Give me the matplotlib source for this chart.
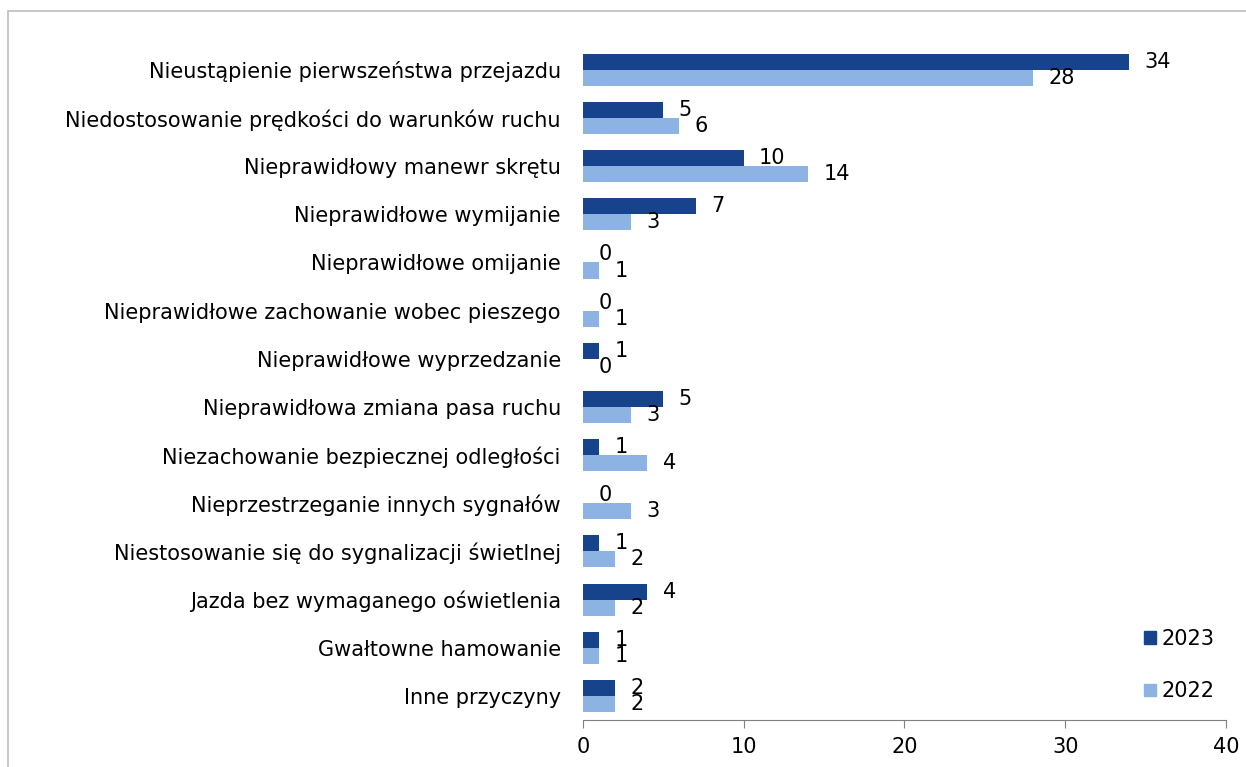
import numpy as np
import matplotlib.pyplot as plt
from matplotlib.patches import Rectangle, Patch

# Dane
przyczyny = [
    "Nieustąpienie pierwszeństwa przejazdu",
    "Niedostosowanie prędkości do warunków ruchu",
    "Nieprawidłowy manewr skrętu",
    "Nieprawidłowe wymijanie",
    "Nieprawidłowe omijanie",
    "Nieprawidłowe zachowanie wobec pieszego",
    "Nieprawidłowe wyprzedzanie",
    "Nieprawidłowa zmiana pasa ruchu",
    "Niezachowanie bezpiecznej odległości",
    "Nieprzestrzeganie innych sygnałów",
    "Niestosowanie się do sygnalizacji świetlnej",
    "Jazda bez wymaganego oświetlenia",
    "Gwałtowne hamowanie",
    "Inne przyczyny",
]
wart_2023 = [34, 5, 10, 7, 0, 0, 1, 5, 1, 0, 1, 4, 1, 2]
wart_2022 = [28, 6, 14, 3, 1, 1, 0, 3, 4, 3, 2, 2, 1, 2]
ticks_x = [0, 10, 20, 30, 40]

kolor_2023 = '#17428c'
kolor_2022 = '#8db3e2'
fs = 15

fig = plt.figure(figsize=(12.46, 7.67), dpi=100)
ax = fig.add_axes([0.4679, 0.0613, 0.516, 0.879])

# ramka wokół wykresu
fig.patches.append(Rectangle((0.0064, -0.02), 1.1, 1.0057, transform=fig.transFigure,
                             fill=False, edgecolor='#bfbfbf', linewidth=1.2))

y = np.arange(len(przyczyny))
h = 0.333
b1 = ax.barh(y - h / 2, wart_2023, height=h, color=kolor_2023, label='2023')
b2 = ax.barh(y + h / 2, wart_2022, height=h, color=kolor_2022, label='2022')

# etykiety wartości (nakładające się 1/1 i 2/2 są tak samo jak w oryginale)
for bars, vals in [(b1, wart_2023), (b2, wart_2022)]:
    for bar, v in zip(bars, vals):
        ax.annotate(str(v), (bar.get_width(), bar.get_y() + bar.get_height() / 2),
                    xytext=(11, 0), textcoords='offset points',
                    ha='left', va='center', fontsize=fs, color='black')

ax.set_yticks(y)
ax.set_yticklabels(przyczyny, fontsize=fs)
ax.set_ylim(len(przyczyny) - 0.5, -0.5)
ax.set_xlim(0, 40)
ax.set_xticks(ticks_x)
ax.tick_params(axis='x', labelsize=fs, length=6, color='#808080', pad=6)
ax.tick_params(axis='y', length=0, pad=16)

for s in ['top', 'right', 'left']:
    ax.spines[s].set_visible(False)
ax.spines['bottom'].set_color('#808080')

handles = [Patch(color=kolor_2023, label='2023'), Patch(color=kolor_2022, label='2022')]
ax.legend(handles=handles, loc='lower right', bbox_to_anchor=(1.012, 0.0),
          frameon=False, fontsize=fs, handlelength=0.55, handleheight=0.55,
          handletextpad=0.3, labelspacing=1.55)

plt.savefig('out.png', dpi=100)
